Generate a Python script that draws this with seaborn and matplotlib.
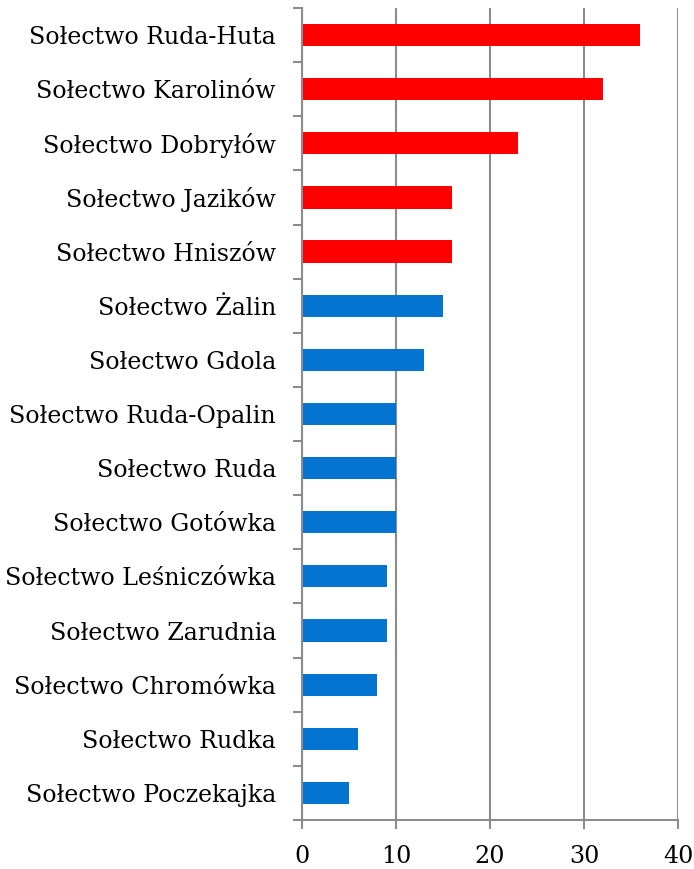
import matplotlib
matplotlib.use("Agg")
import matplotlib.pyplot as plt
import numpy as np
import pandas as pd
import seaborn as sns

# Village councils (sołectwa) and their counts
categories = [
    "Sołectwo Ruda-Huta", "Sołectwo Karolinów", "Sołectwo Dobryłów",
    "Sołectwo Jazików", "Sołectwo Hniszów", "Sołectwo Żalin",
    "Sołectwo Gdola", "Sołectwo Ruda-Opalin", "Sołectwo Ruda",
    "Sołectwo Gotówka", "Sołectwo Leśniczówka", "Sołectwo Zarudnia",
    "Sołectwo Chromówka", "Sołectwo Rudka", "Sołectwo Poczekajka",
]
values = [36, 32, 23, 16, 16, 15, 13, 10, 10, 10, 9, 9, 8, 6, 5]
groups = ["top"] * 5 + ["rest"] * 10
x_ticks = [0, 10, 20, 30, 40]

palette = {"top": "#FF0000", "rest": "#0574D1"}
axis_grey = "#8C8C8C"
line_w = 1.5
tick_len = 6.3
font_size = 17.1

sns.set_theme(style="white")
plt.rcParams["font.family"] = ["DejaVu Serif"]

df = pd.DataFrame({"name": categories, "value": values, "group": groups})

fig = plt.figure(figsize=(6.94, 8.69), dpi=100)
ax = fig.add_axes([0.4352, 0.0564, 0.977 - 0.4352, 0.9908 - 0.0564])

sns.barplot(data=df, y="name", x="value", hue="group", palette=palette,
            order=categories, dodge=False, width=0.41, legend=False,
            saturation=1, linewidth=0, ax=ax)

ax.set_xlim(0, 40)
ax.set_ylim(len(categories) - 0.5, -0.5)
ax.set_xticks(x_ticks)
ax.set_xticklabels([str(t) for t in x_ticks])
ax.set_xlabel("")
ax.set_ylabel("")

# vertical gridlines
ax.set_axisbelow(True)
ax.xaxis.grid(True, color=axis_grey, linewidth=line_w)
ax.yaxis.grid(False)

# spines
for side in ["top", "right"]:
    ax.spines[side].set_visible(False)
for side in ["left", "bottom"]:
    ax.spines[side].set_visible(True)
    ax.spines[side].set_color(axis_grey)
    ax.spines[side].set_linewidth(line_w)

# category labels without ticks; tick marks at band boundaries
ax.tick_params(axis="y", which="major", length=0, pad=18.7,
               labelsize=font_size, labelcolor="black")
ax.set_yticks(np.arange(-0.5, len(categories), 1.0), minor=True)
ax.tick_params(axis="y", which="minor", length=tick_len, width=line_w,
               color=axis_grey, direction="out", left=True)
ax.tick_params(axis="x", which="major", length=tick_len, width=line_w,
               color=axis_grey, direction="out", bottom=True, pad=12,
               labelsize=font_size, labelcolor="black")

fig.savefig("out.png", dpi=100)
